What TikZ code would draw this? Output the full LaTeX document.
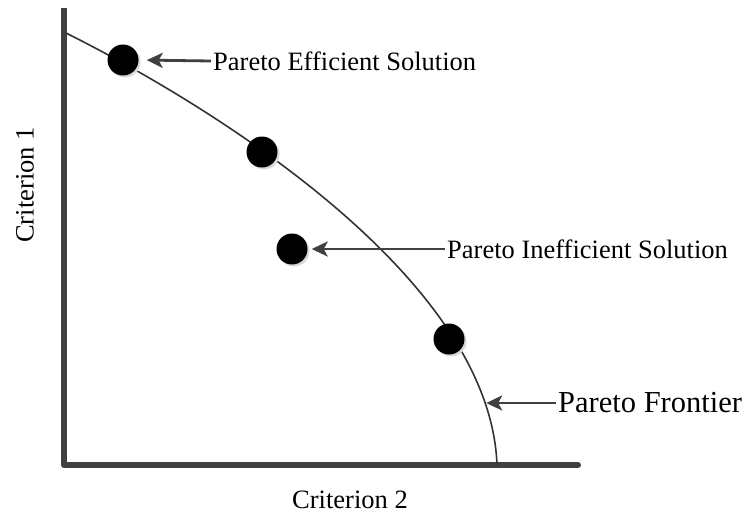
\documentclass[tikz,border=0pt]{standalone}
\usepackage{fontspec}
\setmainfont{Liberation Serif}
\usepackage{tikz}
\usetikzlibrary{arrows.meta,shadows}
\definecolor{axisgray}{HTML}{404040}
\tikzset{
  axis/.style = {line width=6pt, axisgray},
  front/.style = {line width=1.6pt, black!80},
  sol/.style = {circle, fill=black, inner sep=0pt, minimum size=31pt,
    drop shadow={shadow xshift=2pt, shadow yshift=-2pt, fill=black!15, opacity=1}},% solution point
  lbl/.style = {font=\fontsize{26.5pt}{30pt}\selectfont, inner sep=2pt},
  pointer/.style = {->, line width=2.8pt, axisgray}
}
\begin{document}
\begin{tikzpicture}[x=1pt,y=-1pt,>={Stealth[length=16pt,width=15pt,inset=4pt]}]
\useasboundingbox (0,0) rectangle (749,517);
% axes
\coordinate (top) at (64,8);
\coordinate (origin) at (64,465);
\coordinate (right) at (578,465);
\draw[axis] (top) -- (origin);
\draw[axis, line cap=round] (origin) -- (right);
% frontier
\draw[front] (66,33) .. controls (206,103) and (490,275) .. (497,465)
  coordinate[pos=0.89] (f);
% solutions
\node [sol] (s1) at (123,60) {};
\node [sol] (s2) at (262,152) {};
\node [sol] (s3) at (292,249) {};
\node [sol] (s4) at (449,339) {};
% labels
\node [lbl, anchor=west] (eff) at (211,61) {Pareto Efficient Solution};
\node [lbl, anchor=west] (ineff) at (445,249) {Pareto Inefficient Solution};
\node [lbl, anchor=west, font=\fontsize{30.5pt}{34pt}\selectfont] (fr) at (556,403) {Pareto Frontier};
\node [lbl, rotate=90] (c1) at (25,185) {Criterion 1};
\node [lbl] (c2) at (350,500) {Criterion 2};
\draw[pointer, shorten >=8pt] (eff.west) -- (s1.east);
\draw[pointer, shorten >=4pt] (ineff.west) -- (s3.east);
\draw[pointer, shorten >=1pt] (fr.west) -- (fr.west -| f);
\end{tikzpicture}
\end{document}
